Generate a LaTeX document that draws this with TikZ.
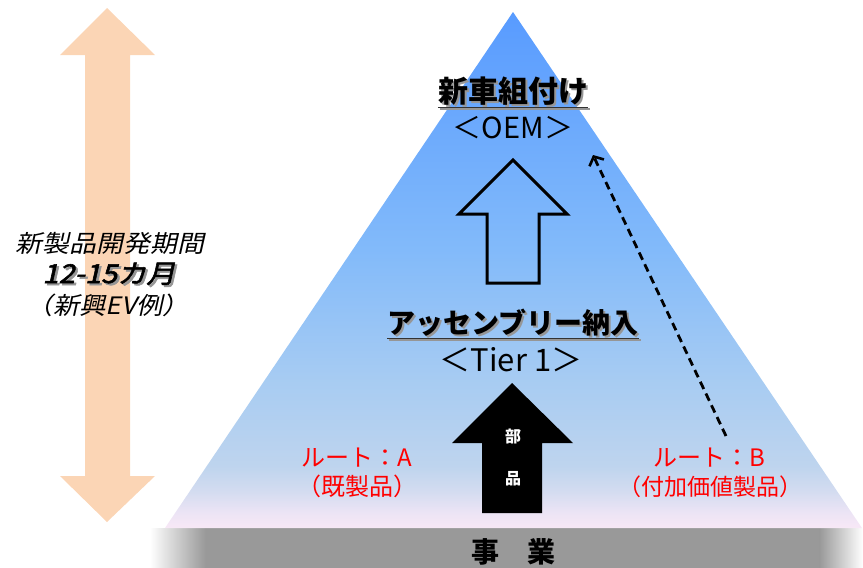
\documentclass[tikz,border=0pt]{standalone}
\usepackage{fontspec}
\usetikzlibrary{arrows.meta}
\newfontfamily\jp{Noto Sans CJK JP}
\newfontfamily\jpsl{Noto Sans CJK JP}[FakeSlant=0.2]
\newfontfamily\jpbsl{Noto Sans CJK JP}[FakeSlant=0.2,FakeBold=2]
\definecolor{orangeA}{RGB}{251,213,181}
\definecolor{shadowgray}{RGB}{153,153,153}
\definecolor{tshadow}{RGB}{150,150,150}
\definecolor{redT}{RGB}{255,0,0}
\definecolor{sA}{RGB}{248,232,246}
\definecolor{sB}{RGB}{236,228,245}
\definecolor{sC}{RGB}{212,220,240}
\definecolor{sD}{RGB}{190,212,238}
\definecolor{sE}{RGB}{168,204,242}
\definecolor{sF}{RGB}{130,186,250}
\definecolor{sG}{RGB}{88,155,255}
\pgfdeclareverticalshading{tri}{100bp}{%
  color(0bp)=(sA);
  color(25bp)=(sA);
  color(26.5bp)=(sB);
  color(28.5bp)=(sC);
  color(31bp)=(sD);
  color(39bp)=(sE);
  color(52bp)=(sF);
  color(75bp)=(sG);
  color(100bp)=(sG)}
% text with a grey drop shadow, in one box
\newcommand{\shtext}[1]{\rlap{\hspace{2pt}\raisebox{-2pt}{\textcolor{tshadow}{#1}}}#1}
\tikzset{
  txt/.style={inner sep=0pt, anchor=base},
  ttl/.style={txt, font=\jp\bfseries\fontsize{30}{30}\selectfont},
  sub/.style={txt, font=\jp\fontsize{29}{29}\selectfont},
  red/.style={txt, text=redT, font=\jp\fontsize{24}{24}\selectfont},
  lefttxt/.style={txt, font=\jpsl\fontsize{24}{24}\selectfont},
  uline/.style={black!80, line width=1.6pt},
  ushadow/.style={tshadow, line width=2pt},
}
\begin{document}
\begin{tikzpicture}[x=1pt,y=-1pt]
\useasboundingbox (0,0) rectangle (863,568);
% shadow band under the pyramid
\fill[shadowgray] (205,528) rectangle (820,568);
\shade[left color=white, right color=shadowgray] (150,528) rectangle (205.5,568);
\shade[left color=shadowgray, right color=white] (819.5,528) rectangle (863,568);
% pyramid
\shade[shading=tri] (513,12) -- (862,528) -- (165,528) -- cycle;
% left double arrow
\fill[orangeA] (107,8) -- (155,55) -- (130,55) -- (130,476) -- (155,476) -- (107,522)
  -- (60,476) -- (85,476) -- (85,55) -- (60,55) -- cycle;
\node[lefttxt] (l1) at (110,252) {\scalebox{1.12}[1]{新製品開発期間}};
\node[txt, font=\jpbsl\fontsize{26}{26}\selectfont] (l2) at (109,283) {\scalebox{1.12}[1]{\shtext{12-15カ月}}};
\node[lefttxt] (l3) at (108,314) {\scalebox{1.1}[1]{（新興EV例）}};
% hollow arrow
\draw[line width=3pt, line join=miter] (513,160) -- (567,214) -- (539,214) -- (539,283) -- (487,283)
  -- (487,214) -- (459,214) -- cycle;
% black arrow
\fill[black] (512,383) -- (573,443) -- (542,443) -- (542,513) -- (482,513) -- (482,443) -- (452,443) -- cycle;
\node[txt, text=white, font=\jp\bfseries\fontsize{16}{16}\selectfont] (bu) at (513,442) {部};
\node[txt, text=white, font=\jp\bfseries\fontsize{16}{16}\selectfont] (hin) at (513,484) {品};
% titles
\node[ttl] (oemt) at (513,102) {\shtext{新車組付け}};
\draw[ushadow] ([xshift=2pt,yshift=-7pt]oemt.base west) -- ([xshift=2pt,yshift=-7pt]oemt.base east);
\draw[uline] ([yshift=-5.5pt]oemt.base west) -- ([yshift=-5.5pt]oemt.base east);
\node[sub] (oem) at (513,138) {＜OEM＞};
\node[ttl, font=\jp\bfseries\fontsize{28}{28}\selectfont] (asm) at (513,333) {\shtext{アッセンブリー納入}};
\draw[ushadow] ([xshift=2pt,yshift=-7pt]asm.base west) -- ([xshift=2pt,yshift=-7pt]asm.base east);
\draw[uline] ([yshift=-5.5pt]asm.base west) -- ([yshift=-5.5pt]asm.base east);
\node[sub, font=\jp\fontsize{31}{31}\selectfont] (tier) at (511,371) {＜Tier 1＞};
% routes
\node[red] (ra) at (357,466) {ルート：A};
\node[red] (ra2) at (357,495) {（既製品）};
\node[red] (rb) at (709,466) {ルート：B};
\node[red, font=\jp\fontsize{23}{23}\selectfont] (rb2) at (710,495) {（付加価値製品）};
% dashed arrow
\coordinate (dsA) at (726,436);
\coordinate (dsB) at (593,155);
\draw[line width=2.8pt, dash pattern=on 8pt off 5pt, -{Straight Barb[length=7pt,width=16pt,line width=2.6pt]}] (dsA) -- (dsB);
% base label
\node[txt, font=\jp\bfseries\fontsize{28}{28}\selectfont] (jg) at (513,562) {事　業};
\end{tikzpicture}
\end{document}
